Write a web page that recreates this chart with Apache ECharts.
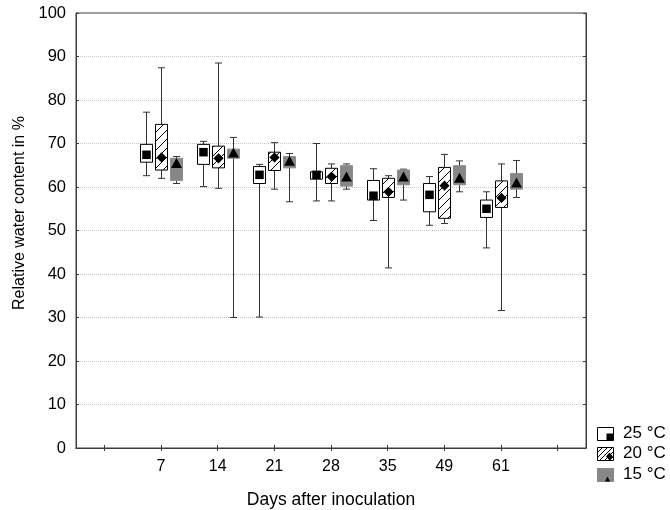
<!DOCTYPE html>
<html><head><meta charset="utf-8">
<script src="https://cdn.jsdelivr.net/npm/echarts@6/dist/echarts.min.js"></script>
<style>html,body{margin:0;padding:0;background:#fff}#c{width:670px;height:510px}</style>
</head><body><div id="c"></div>
<script>
// Category slots: empty padding slot at each end, like the reference axis
const categories = ['', '7', '14', '21', '28', '35', '49', '61', ''];
const seriesNames = ['25 °C', '20 °C', '15 °C'];
// Each entry: [min, Q1, median, Q3, max] for days 7,14,21,28,35,49,61
const t25 = [
  [62.6, 65.7, 67.4, 69.8, 77.2],
  [60.1, 65.2, 68.0, 69.8, 70.5],
  [30.1, 60.8, 62.8, 64.7, 65.2],
  [56.8, 61.8, 62.8, 63.5, 70.0],
  [52.3, 57.0, 58.0, 61.5, 64.2],
  [51.2, 54.3, 58.2, 60.8, 62.4],
  [46.0, 53.0, 55.0, 57.0, 58.9]
];
const t20 = [
  [62.0, 63.9, 66.8, 74.4, 87.4],
  [59.7, 64.4, 66.6, 69.4, 88.5],
  [59.5, 63.8, 66.8, 68.0, 70.2],
  [56.8, 60.8, 62.4, 64.3, 65.3],
  [41.4, 57.6, 58.9, 62.0, 62.6],
  [51.6, 52.8, 60.3, 64.5, 67.5],
  [31.6, 55.3, 57.5, 61.4, 65.3]
];
const t15 = [
  [60.8, 61.5, 65.3, 66.6, 67.0],
  [30.0, 66.6, 67.7, 68.7, 71.4],
  [56.6, 64.4, 65.8, 67.0, 67.7],
  [59.5, 60.2, 62.2, 64.9, 65.3],
  [57.0, 60.5, 62.2, 63.9, 64.1],
  [58.9, 60.5, 61.9, 64.9, 66.0],
  [57.6, 59.5, 60.8, 63.1, 66.1]
];
const yMin = 0, yMax = 100, yStep = 10;

const FONT = '"Liberation Sans", Arial, sans-serif';

function hatchCanvas(size) {
  const c = document.createElement('canvas');
  c.width = size; c.height = size;
  const g = c.getContext('2d');
  g.fillStyle = '#fff'; g.fillRect(0, 0, size, size);
  g.strokeStyle = '#000'; g.lineWidth = 1;
  g.beginPath();
  g.moveTo(0, size); g.lineTo(size, 0);
  g.moveTo(-1, 1); g.lineTo(1, -1);
  g.moveTo(size - 1, size + 1); g.lineTo(size + 1, size - 1);
  g.stroke();
  return c;
}
const hatchBox = { image: hatchCanvas(9), repeat: 'repeat' };
const hatchLegend = { image: hatchCanvas(5), repeat: 'repeat' };

function toData(arr) {
  return arr.map((v, i) => [i + 1].concat(v));
}

function markerShape(kind, x, y, s) {
  if (kind === 0) {
    return { type: 'rect', shape: { x: x - s / 2, y: y - s / 2, width: s, height: s }, style: { fill: '#000' } };
  } else if (kind === 1) {
    const h = s * 0.6;
    return { type: 'polygon', shape: { points: [[x, y - h], [x + h, y], [x, y + h], [x - h, y]] }, style: { fill: '#000' } };
  }
  const h = s * 0.6;
  return { type: 'polygon', shape: { points: [[x, y - h * 1.05], [x + h * 0.95, y + h * 0.7], [x - h * 0.95, y + h * 0.7]] }, style: { fill: '#000' } };
}

function makeRender(kind, offsetFrac) {
  return function (params, api) {
    const xi = api.value(0);
    const band = api.size([1, 0])[0];
    const off = band * offsetFrac;
    const bw = Math.round(band * 0.22);
    const pMin = api.coord([xi, api.value(1)]);
    const pQ1 = api.coord([xi, api.value(2)]);
    const pMed = api.coord([xi, api.value(3)]);
    const pQ3 = api.coord([xi, api.value(4)]);
    const pMax = api.coord([xi, api.value(5)]);
    const cx = Math.round(pMin[0] + off) + 0.5;
    const cap = 3.5;
    const ls = { stroke: '#333', lineWidth: 1 };
    const ch = [];
    ch.push({ type: 'line', shape: { x1: cx, y1: pMax[1], x2: cx, y2: pMin[1] }, style: ls });
    ch.push({ type: 'line', shape: { x1: cx - cap, y1: pMax[1], x2: cx + cap, y2: pMax[1] }, style: ls });
    ch.push({ type: 'line', shape: { x1: cx - cap, y1: pMin[1], x2: cx + cap, y2: pMin[1] }, style: ls });
    let boxStyle;
    if (kind === 0) boxStyle = { fill: '#fff', stroke: '#000', lineWidth: 1 };
    else if (kind === 1) boxStyle = { fill: hatchBox, stroke: '#000', lineWidth: 1 };
    else boxStyle = { fill: '#878787', stroke: '#8c8c8c', lineWidth: 1 };
    ch.push({ type: 'rect', shape: { x: cx - bw / 2, y: pQ3[1], width: bw, height: pQ1[1] - pQ3[1] }, style: boxStyle });
    ch.push(markerShape(kind, cx, pMed[1], kind === 2 ? 9.5 : 8.5));
    return { type: 'group', children: ch };
  };
}

const datasets = [t25, t20, t15];
const offsets = [-0.265, 0, 0.265];

const series = datasets.map((d, k) => ({
  name: seriesNames[k],
  type: 'custom',
  xAxisIndex: 0,
  yAxisIndex: 0,
  renderItem: makeRender(k, offsets[k]),
  encode: { x: 0, y: [1, 2, 3, 4, 5] },
  data: toData(d),
  z: 3
}));

// legend drawn as graphic elements (icons + real text)
const legendRows = [433, 453.5, 474];
const legendGraphics = [];
seriesNames.forEach((name, k) => {
  const yc = legendRows[k];
  const x0 = 597.5, w = 16, h = 13;
  const y0 = Math.round(yc - h / 2) + 0.5;
  let st;
  if (k === 0) st = { fill: '#fff', stroke: '#000', lineWidth: 1 };
  else if (k === 1) st = { fill: hatchLegend, stroke: '#000', lineWidth: 1 };
  else st = { fill: '#878787', stroke: '#878787', lineWidth: 1 };
  legendGraphics.push({ type: 'rect', shape: { x: x0, y: y0, width: w, height: h }, style: st, z: 10 });
  if (k === 0) legendGraphics.push({ type: 'rect', shape: { x: x0 + w - 7, y: y0 + h - 7, width: 6.5, height: 7 }, style: { fill: '#000' }, z: 11 });
  if (k === 1) legendGraphics.push({ type: 'polygon', shape: { points: [[x0 + w - 4, y0 + h - 8], [x0 + w - 0.5, y0 + h - 4], [x0 + w - 4, y0 + h], [x0 + w - 7.5, y0 + h - 4]] }, style: { fill: '#000' }, z: 11 });
  if (k === 2) legendGraphics.push({ type: 'polygon', shape: { points: [[x0 + w - 6, y0 + h - 5], [x0 + w - 3.5, y0 + h], [x0 + w - 8.5, y0 + h]] }, style: { fill: '#000' }, z: 11 });
  legendGraphics.push({ type: 'text', style: { text: name, x: 623, y: yc, textVerticalAlign: 'middle', fill: '#000', font: '17px ' + FONT }, z: 11 });
});

const axisLineColor = '#3c3c3c';
const chart = echarts.init(document.getElementById('c'), null, { renderer: 'canvas' });
chart.setOption({
  animation: false,
  backgroundColor: '#fff',
  textStyle: { fontFamily: FONT },
  grid: { left: 76, right: 84, top: 13, bottom: 62, containLabel: false, outerBoundsMode: 'none',
          show: true, borderColor: axisLineColor, borderWidth: 1, backgroundColor: 'transparent' },
  xAxis: [{
    type: 'category', data: categories, position: 'bottom', boundaryGap: true,
    axisLine: { show: true, lineStyle: { color: axisLineColor, width: 1 } },
    axisTick: { show: true, inside: true, alignWithLabel: true, length: 3, lineStyle: { color: axisLineColor } },
    axisLabel: { color: '#000', fontSize: 16, margin: 11, fontFamily: FONT, interval: 0 },
    splitLine: { show: false },
    name: 'Days after inoculation', nameLocation: 'middle', nameGap: 43,
    nameTextStyle: { color: '#000', fontSize: 17.5, fontFamily: FONT }
  }, {
    type: 'category', data: categories, position: 'top', boundaryGap: true,
    axisLine: { show: true, lineStyle: { color: axisLineColor, width: 1 } },
    axisTick: { show: true, inside: true, alignWithLabel: true, length: 3, lineStyle: { color: axisLineColor } },
    axisLabel: { show: false }, splitLine: { show: false }
  }],
  yAxis: [{
    type: 'value', min: yMin, max: yMax, interval: yStep, position: 'left',
    axisLine: { show: true, lineStyle: { color: axisLineColor, width: 1 } },
    axisTick: { show: true, inside: true, length: 3, lineStyle: { color: axisLineColor } },
    axisLabel: { color: '#000', fontSize: 16.5, margin: 10, fontFamily: FONT },
    splitLine: { show: true, showMinLine: false, showMaxLine: false, lineStyle: { color: '#c4c4c4', type: [1, 1], width: 1 } },
    name: 'Relative water content in %', nameLocation: 'middle', nameGap: 46, nameRotate: 90,
    nameTextStyle: { color: '#000', fontSize: 16, fontFamily: FONT, padding: [0, 0, 0, 35] }
  }, {
    type: 'value', min: yMin, max: yMax, interval: yStep, position: 'right',
    axisLine: { show: true, lineStyle: { color: axisLineColor, width: 1 } },
    axisTick: { show: true, inside: true, length: 3, lineStyle: { color: axisLineColor } },
    axisLabel: { show: false }, splitLine: { show: false }
  }],
  graphic: legendGraphics,
  series: series
});
</script>
</body></html>
